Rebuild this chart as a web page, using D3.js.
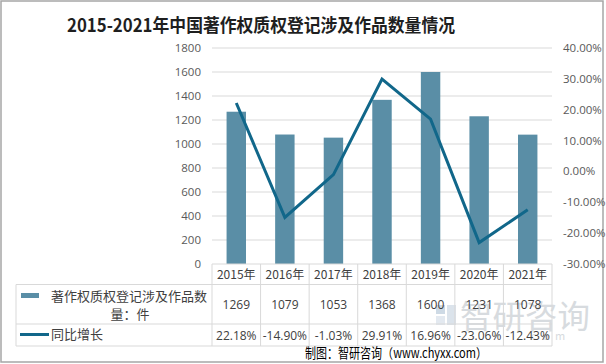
<!DOCTYPE html>
<html><head><meta charset="utf-8">
<script src="https://cdn.jsdelivr.net/npm/d3@7"></script>
<style>
html,body{margin:0;padding:0;background:#fff;}
svg{display:block;font-family:"Noto Sans CJK SC","Noto Sans",sans-serif;}
</style></head>
<body>
<svg id="c" width="606" height="364"></svg>
<script>
const years = ["2015年","2016年","2017年","2018年","2019年","2020年","2021年"];
const counts = [1269,1079,1053,1368,1600,1231,1078];
const growth = [22.18,-14.90,-1.03,29.91,16.96,-23.06,-12.43];
const leftTicks = [0,200,400,600,800,1000,1200,1400,1600,1800];
const rightTicks = [-30,-20,-10,0,10,20,30,40];
const titleText = "2015-2021年中国著作权质权登记涉及作品数量情况";
const seriesNames = ["著作权质权登记涉及作品数","量：件","同比增长"];
const sourceText = "制图：智研咨询（www.chyxx.com）";

const svg = d3.select("#c");
const barColor = "#5a8ea6", lineColor = "#11678a", gridColor = "#d9d9d9", txt = "#595959";

// border
svg.append("rect").attr("x",1).attr("y",1).attr("width",602).attr("height",361)
  .attr("fill","#fff").attr("stroke","#a6a6a6").attr("stroke-width",1.5);

const x = d3.scaleBand().domain(years).range([212,552]).padding(0);
const yL = d3.scaleLinear().domain([0,1800]).range([264,48]);
const yR = d3.scaleLinear().domain([-30,40]).range([264,48]);

// title
svg.append("text").attr("x",67).attr("y",32).attr("text-anchor","start")
  .attr("font-size",18).attr("font-weight","bold").attr("fill","#1f1f1f")
  .attr("textLength",388).attr("lengthAdjust","spacingAndGlyphs").text(titleText);

// gridlines
svg.append("g").selectAll("line").data(leftTicks.filter(d=>d>0)).join("line")
  .attr("x1",212).attr("x2",552).attr("y1",d=>yL(d)).attr("y2",d=>yL(d))
  .attr("stroke",gridColor).attr("stroke-width",1);

// left axis labels
svg.append("g").selectAll("text").data(leftTicks).join("text")
  .attr("x",201).attr("y",d=>yL(d)+4).attr("text-anchor","end")
  .attr("font-size",11.5).attr("fill",txt).attr("font-family","'Open Sans','Noto Sans',sans-serif").text(d=>d);

// right axis labels
svg.append("g").selectAll("text").data(rightTicks).join("text")
  .attr("x",563).attr("y",d=>yR(d)+4).attr("text-anchor","start")
  .attr("font-size",11.5).attr("fill",txt).attr("font-family","'Open Sans','Noto Sans',sans-serif").text(d=>d.toFixed(2)+"%");

// bars
const bw = x.bandwidth()*0.4;
svg.append("g").selectAll("rect").data(counts).join("rect")
  .attr("x",(d,i)=>x(years[i])+x.bandwidth()/2-bw/2)
  .attr("y",d=>yL(d)).attr("width",bw).attr("height",d=>yL(0)-yL(d))
  .attr("fill",barColor);

// line
const line = d3.line().x((d,i)=>x(years[i])+x.bandwidth()/2).y(d=>yR(d));
svg.append("path").datum(growth).attr("d",line).attr("fill","none")
  .attr("stroke",lineColor).attr("stroke-width",3).attr("stroke-linejoin","miter");

// watermark
const wm = svg.append("g").attr("opacity",0.5);
wm.append("rect").attr("x",436).attr("y",305).attr("width",9).attr("height",9).attr("fill","#9fb6cc");
wm.append("rect").attr("x",447).attr("y",305).attr("width",9).attr("height",20).attr("fill","#b9c9d9");
wm.append("rect").attr("x",436).attr("y",316).attr("width",9).attr("height",9).attr("fill","#c9d5e2");
wm.append("text").attr("x",460).attr("y",328).attr("font-size",32).attr("fill","#b0b8c0")
  .attr("textLength",130).attr("lengthAdjust","spacingAndGlyphs").text("智研咨询");
wm.append("text").attr("x",531).attr("y",340).attr("font-size",11).attr("fill","#b0b8c0")
  .attr("letter-spacing",6).text("com");

// table
const T = svg.append("g").attr("stroke",gridColor).attr("stroke-width",1).attr("fill","none");
const rowY = [264,284.5,324,346];
T.append("line").attr("x1",212).attr("x2",552).attr("y1",rowY[0]).attr("y2",rowY[0]);
[rowY[1],rowY[2],rowY[3]].forEach(yy=>T.append("line").attr("x1",16).attr("x2",552).attr("y1",yy).attr("y2",yy));
T.append("line").attr("x1",16).attr("x2",16).attr("y1",rowY[1]).attr("y2",rowY[3]);
years.forEach(yr=>T.append("line").attr("x1",x(yr)).attr("x2",x(yr)).attr("y1",rowY[0]).attr("y2",rowY[3]));
T.append("line").attr("x1",552).attr("x2",552).attr("y1",rowY[0]).attr("y2",rowY[3]);

const tf = "'Open Sans','Noto Sans CJK SC',sans-serif";
svg.append("g").selectAll("text").data(years).join("text")
  .attr("x",d=>x(d)+x.bandwidth()/2).attr("y",279).attr("text-anchor","middle")
  .attr("font-size",12).attr("fill","#404040").text(d=>d);
svg.append("g").selectAll("text").data(counts).join("text")
  .attr("x",(d,i)=>x(years[i])+x.bandwidth()/2).attr("y",309).attr("text-anchor","middle")
  .attr("font-size",12).attr("fill","#404040").attr("font-family",tf).text(d=>d);
svg.append("g").selectAll("text").data(growth).join("text")
  .attr("x",(d,i)=>x(years[i])+x.bandwidth()/2).attr("y",340).attr("text-anchor","middle")
  .attr("font-size",12).attr("fill","#404040").attr("font-family",tf).text(d=>d.toFixed(2)+"%");

// legend cells
svg.append("rect").attr("x",21).attr("y",293).attr("width",18).attr("height",5).attr("fill",barColor);
svg.append("text").attr("x",51).attr("y",301).attr("font-size",13).attr("fill","#404040").text(seriesNames[0]);
svg.append("text").attr("x",130).attr("y",319).attr("text-anchor","middle").attr("font-size",13).attr("fill","#404040").text(seriesNames[1]);
svg.append("line").attr("x1",20).attr("x2",49).attr("y1",334.5).attr("y2",334.5).attr("stroke",lineColor).attr("stroke-width",3);
svg.append("text").attr("x",51).attr("y",339).attr("font-size",13).attr("fill","#404040").text(seriesNames[2]);

// source
svg.append("text").attr("x",305).attr("y",357.5).attr("font-size",13.5).attr("fill","#000")
  .attr("textLength",182).attr("lengthAdjust","spacingAndGlyphs").text(sourceText);
</script>
</body></html>
